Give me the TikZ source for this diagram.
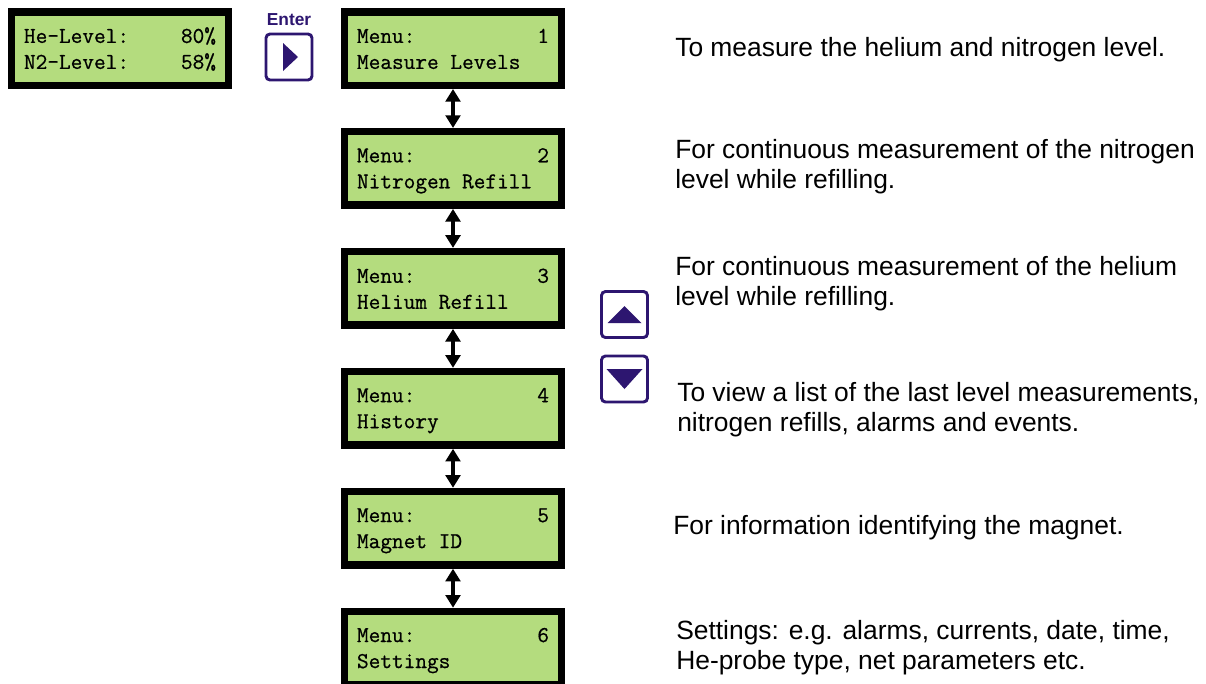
\documentclass[tikz,border=0pt]{standalone}
\usepackage{fontspec}
\setsansfont{Liberation Sans}
\newfontfamily\lcdfont{Latin Modern Mono}[FakeBold=0.7]
\usepackage{tikz}
\usepackage{xcolor}
\usetikzlibrary{arrows.meta,positioning}
\definecolor{lcdgreen}{RGB}{180,220,126}
\definecolor{keyblue}{RGB}{45,22,112}
\newcommand{\lcdrow}[2]{\makebox[144pt][l]{\rule[-3.1pt]{0pt}{17.3pt}#1\hfill#2}}

\begin{document}
\begin{tikzpicture}[
                x=0.75pt, y=-0.75pt,
                lcd/.style={draw=black, fill=lcdgreen, line width=5.6pt,
                    minimum width=162.4pt, minimum height=55.1pt, inner sep=0pt,
                    align=left, font=\fontsize{17}{19.5}\selectfont\lcdfont},
                key/.style={draw=keyblue, fill=white, line width=2.2pt,
                    rounded corners=3pt, minimum size=34.5pt, inner sep=0pt},
                updown/.style={{Triangle[width=11pt,length=9.5pt]}-{Triangle[width=11pt,length=9.5pt]},
                    line width=2.4pt},
                note/.style={anchor=west, align=left, inner sep=0pt,
                    font=\fontsize{19.8}{22.5}\selectfont\sffamily}]
            \path[use as bounding box, clip] (0,0) rectangle (1206,683);

            \node[lcd] (levels) at (120,48.5) {\lcdrow{He-Level:}{80\%}\\ \lcdrow{N2-Level:}{58\%}};

            \node[key] (enter) at (289,57) {};
            \node[above=5pt of enter, inner sep=0pt, text=keyblue,
                font=\fontsize{13}{13}\selectfont\sffamily\bfseries] (enterlabel) {Enter};
            \fill[keyblue] ([shift={(-6,-14)}]enter.center) -- ++(15,14) -- ++(-15,14) -- cycle;

            \node[lcd] (m1) at (453,48.5) {\lcdrow{Menu:}{1}\\ \lcdrow{Measure Levels}{}};
            \node[lcd, below=29.25pt of m1] (m2) {\lcdrow{Menu:}{2}\\ \lcdrow{Nitrogen Refill}{}};
            \node[lcd, below=29.25pt of m2] (m3) {\lcdrow{Menu:}{3}\\ \lcdrow{Helium Refill}{}};
            \node[lcd, below=29.25pt of m3] (m4) {\lcdrow{Menu:}{4}\\ \lcdrow{History}{}};
            \node[lcd, below=29.25pt of m4] (m5) {\lcdrow{Menu:}{5}\\ \lcdrow{Magnet ID}{}};
            \node[lcd, below=29.25pt of m5] (m6) {\lcdrow{Menu:}{6}\\ \lcdrow{Settings}{}};

            \draw[updown] (m1) -- (m2);
            \draw[updown] (m2) -- (m3);
            \draw[updown] (m3) -- (m4);
            \draw[updown] (m4) -- (m5);
            \draw[updown] (m5) -- (m6);

            \node[key] (up) at (624.5,314.5) {};
            \fill[keyblue] ([shift={(-17,8.5)}]up.center) -- ++(34,0) -- ++(-17,-17) -- cycle;
            \node[key] (down) at (624.5,379) {};
            \fill[keyblue] ([shift={(-18,-10)}]down.center) -- ++(36,0) -- ++(-18,20) -- cycle;

            \node[note] (d1) at (675,50) {To measure the helium and nitrogen level.};
            \node[note] (d2) at (675,167) {For continuous measurement of the nitrogen\\level while refilling.};
            \node[note] (d3) at (675,284) {For continuous measurement of the helium\\level while refilling.};
            \node[note] (d4) at (677,410) {To view a list of the last level measurements,\\nitrogen refills, alarms and events.};
            \node[note] (d5) at (673,528) {For information identifying the magnet.};
            \node[note] (d6) at (676,648) {Settings: e.g. alarms, currents, date, time,\\He-probe type, net parameters etc.};
        \end{tikzpicture}
\end{document}
